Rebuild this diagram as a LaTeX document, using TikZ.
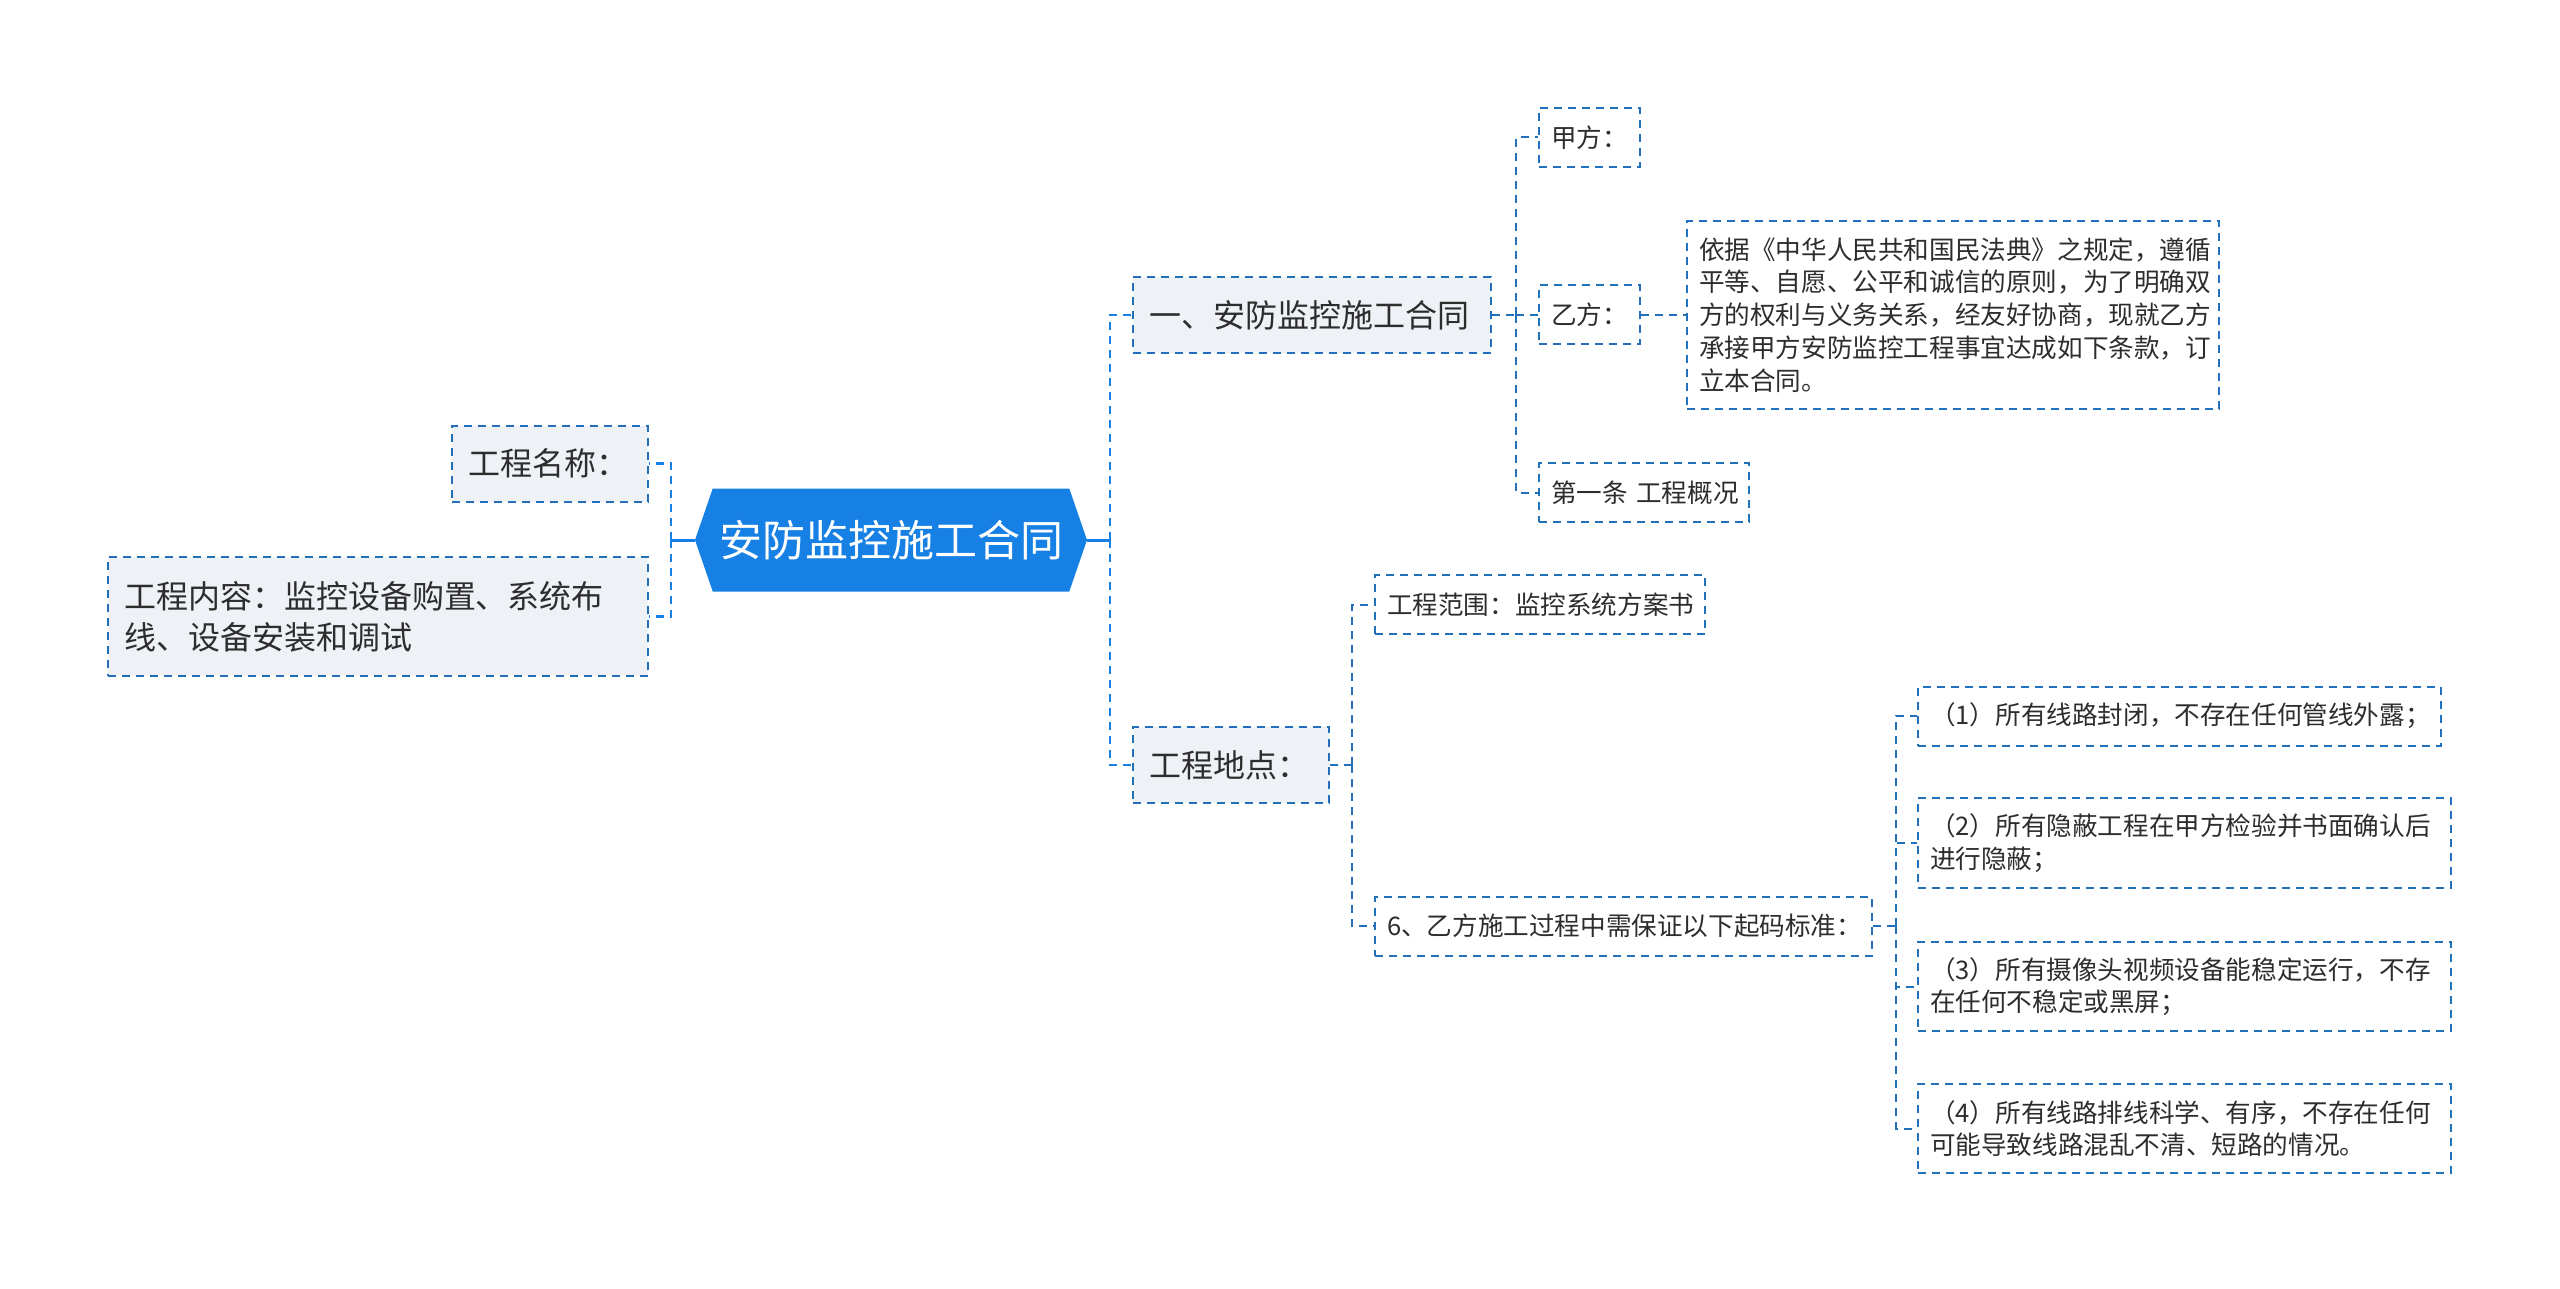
\documentclass[tikz,border=0pt]{standalone}
\usepackage{fontspec}
\setmainfont{Noto Sans CJK SC}
\usetikzlibrary{shapes.symbols}
\definecolor{lineblue}{RGB}{34,112,186}
\definecolor{rootblue}{RGB}{22,128,228}
\definecolor{boxgray}{RGB}{238,241,245}
\definecolor{txtgray}{RGB}{45,45,45}

\begin{document}
\begin{tikzpicture}[
  x=0.5pt,y=-0.5pt,
  root/.style={signal,signal to=west and east,signal pointer angle=142,
    fill=rootblue,text=white,font=\fontsize{21.5}{26}\selectfont,
    minimum width=196pt,minimum height=51.5pt,inner sep=0pt},
  topic/.style={draw=lineblue,line width=1pt,dash pattern=on 4pt off 3pt,
    fill=boxgray,text=txtgray,font=\fontsize{16}{20.5}\selectfont,
    align=left,inner xsep=8pt,inner ysep=0pt,minimum height=38pt},
  leaf/.style={draw=lineblue,line width=1pt,dash pattern=on 4pt off 3pt,
    fill=white,text=txtgray,font=\fontsize{12.8}{16.4}\selectfont,
    align=left,inner xsep=6pt,inner ysep=0pt,minimum height=29.5pt},
  link/.style={lineblue,line width=1pt,dash pattern=on 4pt off 3pt},
  mainlink/.style={rootblue,line width=1.4pt,dash pattern=on 4pt off 3pt},
  stem/.style={rootblue,line width=1.5pt}
]
\useasboundingbox (0,0) rectangle (2560,1289);
% centre
\node[root] (root) at (891,540) {安防监控施工合同};
% left side
\node[topic,text width=82pt] (name) at (550,463.5) {工程名称：};
\node[topic,text width=254pt,minimum height=59.5pt] (content) at (378,616.5)
  {工程内容：监控设备购置、系统布\\线、设备安装和调试};
% right side, first level
\node[topic,text width=163pt] (l1) at (1312,315) {一、安防监控施工合同};
\node[topic,text width=82pt] (place) at (1231,765) {工程地点：};
% contract parties
\node[leaf,text width=38.5pt] (jia) at (1589.5,137.5) {甲方：};
\node[leaf,text width=38.5pt] (yi) at (1589.5,315) {乙方：};
\node[leaf,text width=93pt] (first) at (1644,492.5) {第一条~工程概况};
\node[leaf,text width=254pt,minimum height=94pt] (yitext) at (1953,315)
  {依据《中华人民共和国民法典》之规定，遵循\\平等、自愿、公平和诚信的原则，为了明确双\\方的权利与义务关系，经友好协商，现就乙方\\承接甲方安防监控工程事宜达成如下条款，订\\立本合同。};
% site
\node[leaf,text width=153pt] (scope) at (1540,604.5) {工程范围：监控系统方案书};
\node[leaf,text width=236.5pt] (std) at (1623.5,926) {6、乙方施工过程中需保证以下起码标准：};
\node[leaf,text width=249.5pt] (r1) at (2179.5,716) {（1）所有线路封闭，不存在任何管线外露；};
\node[leaf,text width=254.5pt,minimum height=45pt] (r2) at (2184.5,843)
  {（2）所有隐蔽工程在甲方检验并书面确认后\\进行隐蔽；};
\node[leaf,text width=254.5pt,minimum height=44.5pt] (r3) at (2184.5,986.5)
  {（3）所有摄像头视频设备能稳定运行，不存\\在任何不稳定或黑屏；};
\node[leaf,text width=254.5pt,minimum height=44.5pt] (r4) at (2184.5,1128.5)
  {（4）所有线路排线科学、有序，不存在任何\\可能导致线路混乱不清、短路的情况。};

% hubs
\coordinate (hubL) at (671,540);
\coordinate (hubR) at (1110,540);
\coordinate (hubA) at (1516,315);
\coordinate (hubB) at (1352,765);
\coordinate (hubC) at (1896,926);

% connectors
\draw[stem] (root.west) -- (hubL);
\draw[stem] (root.east) -- (hubR);
\foreach \n in {name,content} \draw[mainlink] (hubL) |- (\n.east);
\foreach \n in {l1,place} \draw[mainlink] (hubR) |- (\n.west);
\draw[link] (l1.east) -- (hubA);
\foreach \n in {jia,yi,first} \draw[link] (hubA) |- (\n.west);
\draw[link] (yi.east) -- (yitext.west);
\draw[link] (place.east) -- (hubB);
\foreach \n in {scope,std} \draw[link] (hubB) |- (\n.west);
\draw[link] (std.east) -- (hubC);
\foreach \n in {r1,r2,r3,r4} \draw[link] (hubC) |- (\n.west);
\end{tikzpicture}
\end{document}
